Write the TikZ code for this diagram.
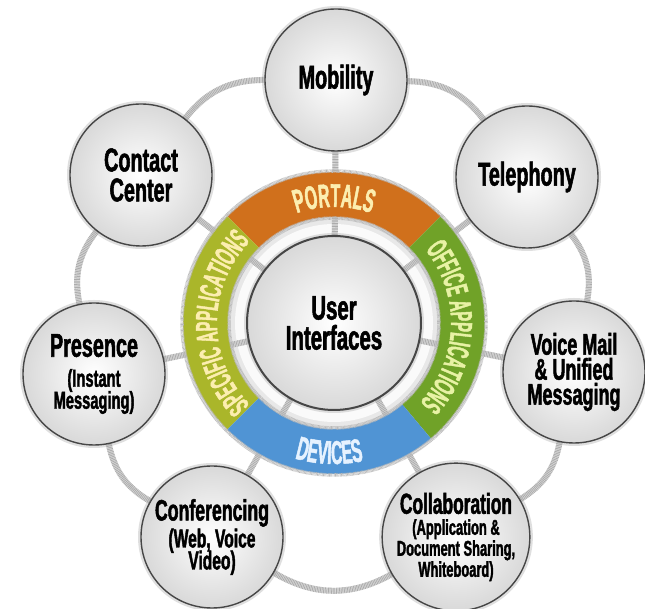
\documentclass[tikz,border=0pt]{standalone}
\usepackage{fontspec}
\newfontfamily\labelfam{Liberation Sans}[FakeStretch=0.6,FakeBold=1.6]
\newfontfamily\ringfam{Liberation Sans}[FakeStretch=0.48,FakeBold=1.4]
\usetikzlibrary{calc,decorations.text}

\definecolor{portal}{RGB}{208,112,28}
\definecolor{office}{RGB}{112,162,40}
\definecolor{special}{RGB}{170,182,42}
\definecolor{device}{RGB}{80,148,212}
\definecolor{warmtext}{RGB}{252,238,176}
\definecolor{greentext}{RGB}{232,242,165}
\definecolor{bluetext}{RGB}{230,242,255}
\definecolor{rim}{RGB}{70,70,70}

\pgfdeclarelayer{cables}
\pgfdeclarelayer{band}
\pgfsetlayers{cables,band,main}

\newcommand\ttl{\labelfam\bfseries\fontsize{33}{30}\selectfont}
\newcommand\subtxt{\labelfam\bfseries\fontsize{24.5}{22}\selectfont}
\newcommand\ringtxt{\ringfam\bfseries\fontsize{33}{33}\selectfont}
\newcommand\ringlong{\ringfam\bfseries\fontsize{30.5}{30.5}\selectfont}

\begin{document}
\begin{tikzpicture}[
    x=1pt,
    y=1pt,
    sphere/.style={circle,minimum size=142pt,inner sep=0pt,align=center,
        draw=rim,line width=1.4pt,
        inner color=white,outer color=gray!30,
        preaction={draw=gray!70,line width=6pt,opacity=0.35},
        font=\ttl},
    cable/.style={line width=6pt,draw=gray!25,
        postaction={draw=gray!65,line width=6pt,dash pattern=on 0.8pt off 0.8pt}},
    knurl/.style={gray!55,line width=3.5pt,dash pattern=on 0.6pt off 0.6pt}
]
    \useasboundingbox (0,0) rectangle (645,609);
    \coordinate (c) at (334,286);

    % Outer spheres
    \node[sphere] (mob) at (336,529) {Mobility};
    \node[sphere] (tel) at (527,432) {Telephony};
    \node[sphere,font=\labelfam\bfseries\fontsize{30}{25}\selectfont] (vm) at (574,237)
        {Voice Mail\\\& Unified\\Messaging};
    \node[sphere,font=\labelfam\bfseries\fontsize{29}{21}\selectfont] (col) at (456,72)
        {Collaboration\\{\fontsize{21.5}{21}\selectfont (Application \&}\\
         {\fontsize{21.5}{21}\selectfont Document Sharing,}\\
         {\fontsize{21.5}{21}\selectfont Whiteboard)}};
    \node[sphere,font=\labelfam\bfseries\fontsize{29.5}{27}\selectfont] (con) at (212,72)
        {Conferencing\\{\fontsize{26}{22}\selectfont (Web, Voice}\\[-5pt]
         {\fontsize{26}{22}\selectfont Video)}};
    \node[sphere] (pre) at (94,235)
        {Presence\\{\subtxt (Instant}\\[-8pt]{\subtxt Messaging)}};
    \node[sphere] (cc) at (141,434) {Contact\\Center};

    % Hub
    \node[sphere,minimum size=174pt,line width=2pt,
        font=\labelfam\bfseries\fontsize{34}{30}\selectfont] (cen) at (c)
        {User\\Interfaces};

    % Coloured band
    \begin{pgfonlayer}{band}
        \foreach \a/\b/\col in {45/135/portal,-50/45/office,135/225/special,225/310/device}
            \fill[\col] ($(c)+(\a:151)$) arc[start angle=\a,end angle=\b,radius=151]
                -- ($(c)+(\b:106)$) arc[start angle=\b,end angle=\a,radius=106] -- cycle;
        \draw[knurl] (c) circle[radius=152];
        \draw[knurl] (c) circle[radius=105];
        \path[decorate,decoration={text along path,text align=center,
            text color=warmtext,text={|\ringtxt|PORTALS}}]
            ($(c)+(150:116)$) arc[start angle=150,end angle=30,radius=116];
        \path[decorate,decoration={text along path,text align=center,
            text color=greentext,text={|\ringlong|OFFICE APPLICATIONS}}]
            ($(c)+(62:117)$) arc[start angle=62,end angle=-66,radius=117];
        \path[decorate,decoration={text along path,text align=center,
            text color=warmtext,text={|\ringlong|SPECIFIC APPLICATIONS}}]
            ($(c)+(244:117)$) arc[start angle=244,end angle=116,radius=117];
        \path[decorate,decoration={text along path,text align=center,
            text color=bluetext,text={|\ringtxt|DEVICES}}]
            ($(c)+(208:141)$) arc[start angle=208,end angle=328,radius=141];
    \end{pgfonlayer}

    % Cables
    \begin{pgfonlayer}{cables}
        \fill[white] (0,0) rectangle (645,609);
        \fill[gray!18] (c) circle[radius=108];
        \fill[gray!4] (c) circle[radius=99];
        \foreach \n in {mob,tel,vm,col,con,pre,cc}
            \draw[cable] (cen) -- (\n);
        \draw[cable] (mob) to[bend left=26] (tel);
        \draw[cable] (tel) to[bend left=24] (vm);
        \draw[cable] (vm) to[bend left=24] (col);
        \draw[cable] (col) to[bend left=30] (con);
        \draw[cable] (con) to[bend left=24] (pre);
        \draw[cable] (pre) to[bend left=25] (cc);
        \draw[cable] (cc) to[bend left=26] (mob);
    \end{pgfonlayer}
\end{tikzpicture}
\end{document}
